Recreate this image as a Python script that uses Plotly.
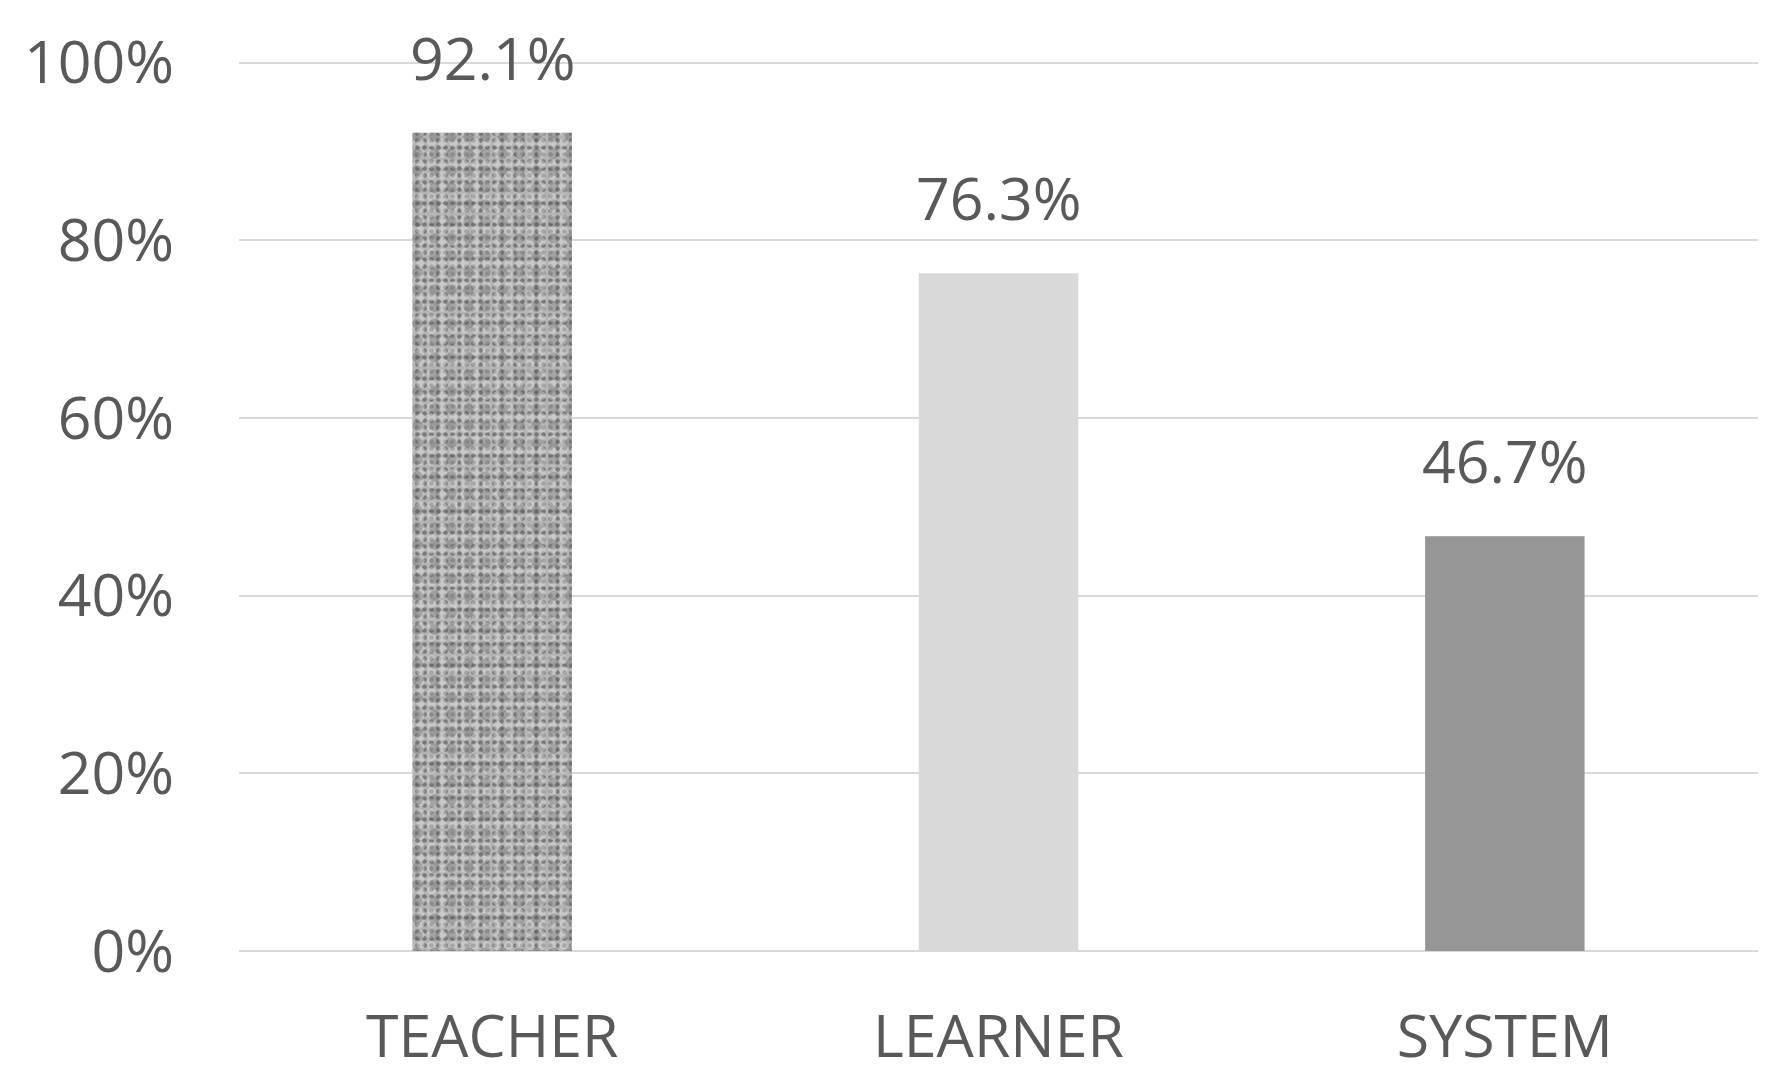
import plotly.graph_objects as go

# data
categories = ["TEACHER", "LEARNER", "SYSTEM"]
values = [0.921, 0.763, 0.467]
value_labels = ["92.1%", "76.3%", "46.7%"]
tick_vals = [0, 0.2, 0.4, 0.6, 0.8, 1.0]
tick_text = ["0%", "20%", "40%", "60%", "80%", "100%"]

TEXT = "#595959"
GRID = "#d9d9d9"
FONT = "Open Sans"
BAR_W = 0.315

fig = go.Figure()

# teacher bar: speckled look made from a few dot grids of different pitch
# laid over each other
speckle = [
    ("#b4b4b4", "#3e3e3e", 7, 0.35),
    ("rgba(0,0,0,0)", "rgba(232,232,232,0.8)", 11, 0.45),
    ("rgba(0,0,0,0)", "rgba(70,70,70,0.55)", 17, 0.3),
]
for bg, fg, sz, sol in speckle:
    fig.add_trace(go.Bar(
        x=categories[:1],
        y=values[:1],
        width=BAR_W,
        marker=dict(
            color=bg,
            line=dict(width=0),
            pattern=dict(shape=".", fgcolor=fg, bgcolor=bg,
                         size=sz, solidity=sol),
        ),
        hoverinfo="skip",
    ))

fig.add_trace(go.Bar(
    x=categories[1:],
    y=values[1:],
    width=BAR_W,
    marker=dict(color=["#d9d9d9", "#969696"], line=dict(width=0)),
    hoverinfo="skip",
))

for cat, val, lab in zip(categories, values, value_labels):
    fig.add_annotation(
        x=cat, y=val, text=lab, showarrow=False,
        yanchor="middle", yshift=76,
        font=dict(family=FONT, size=59, color=TEXT),
    )

# page body adds an 8px offset, so the figure is sized a bit smaller
fig.update_layout(
    width=1776,
    height=1078,
    barmode="overlay",
    showlegend=False,
    plot_bgcolor="white",
    paper_bgcolor="white",
    margin=dict(l=231, r=26, t=50, b=133),
    font=dict(family=FONT, size=59, color=TEXT),
)
fig.update_xaxes(
    showgrid=False,
    showline=False,
    ticks="",
    ticklabelstandoff=46,
    tickfont=dict(family=FONT, size=59, color=TEXT),
)
fig.update_yaxes(
    range=[0, 1.003],
    tickvals=tick_vals,
    ticktext=tick_text,
    showgrid=True,
    gridcolor=GRID,
    gridwidth=2,
    zeroline=True,
    zerolinecolor=GRID,
    zerolinewidth=2,
    showline=False,
    ticks="",
    ticklabelstandoff=64,
    tickfont=dict(family=FONT, size=59, color=TEXT),
)

fig.write_html("out.html")
